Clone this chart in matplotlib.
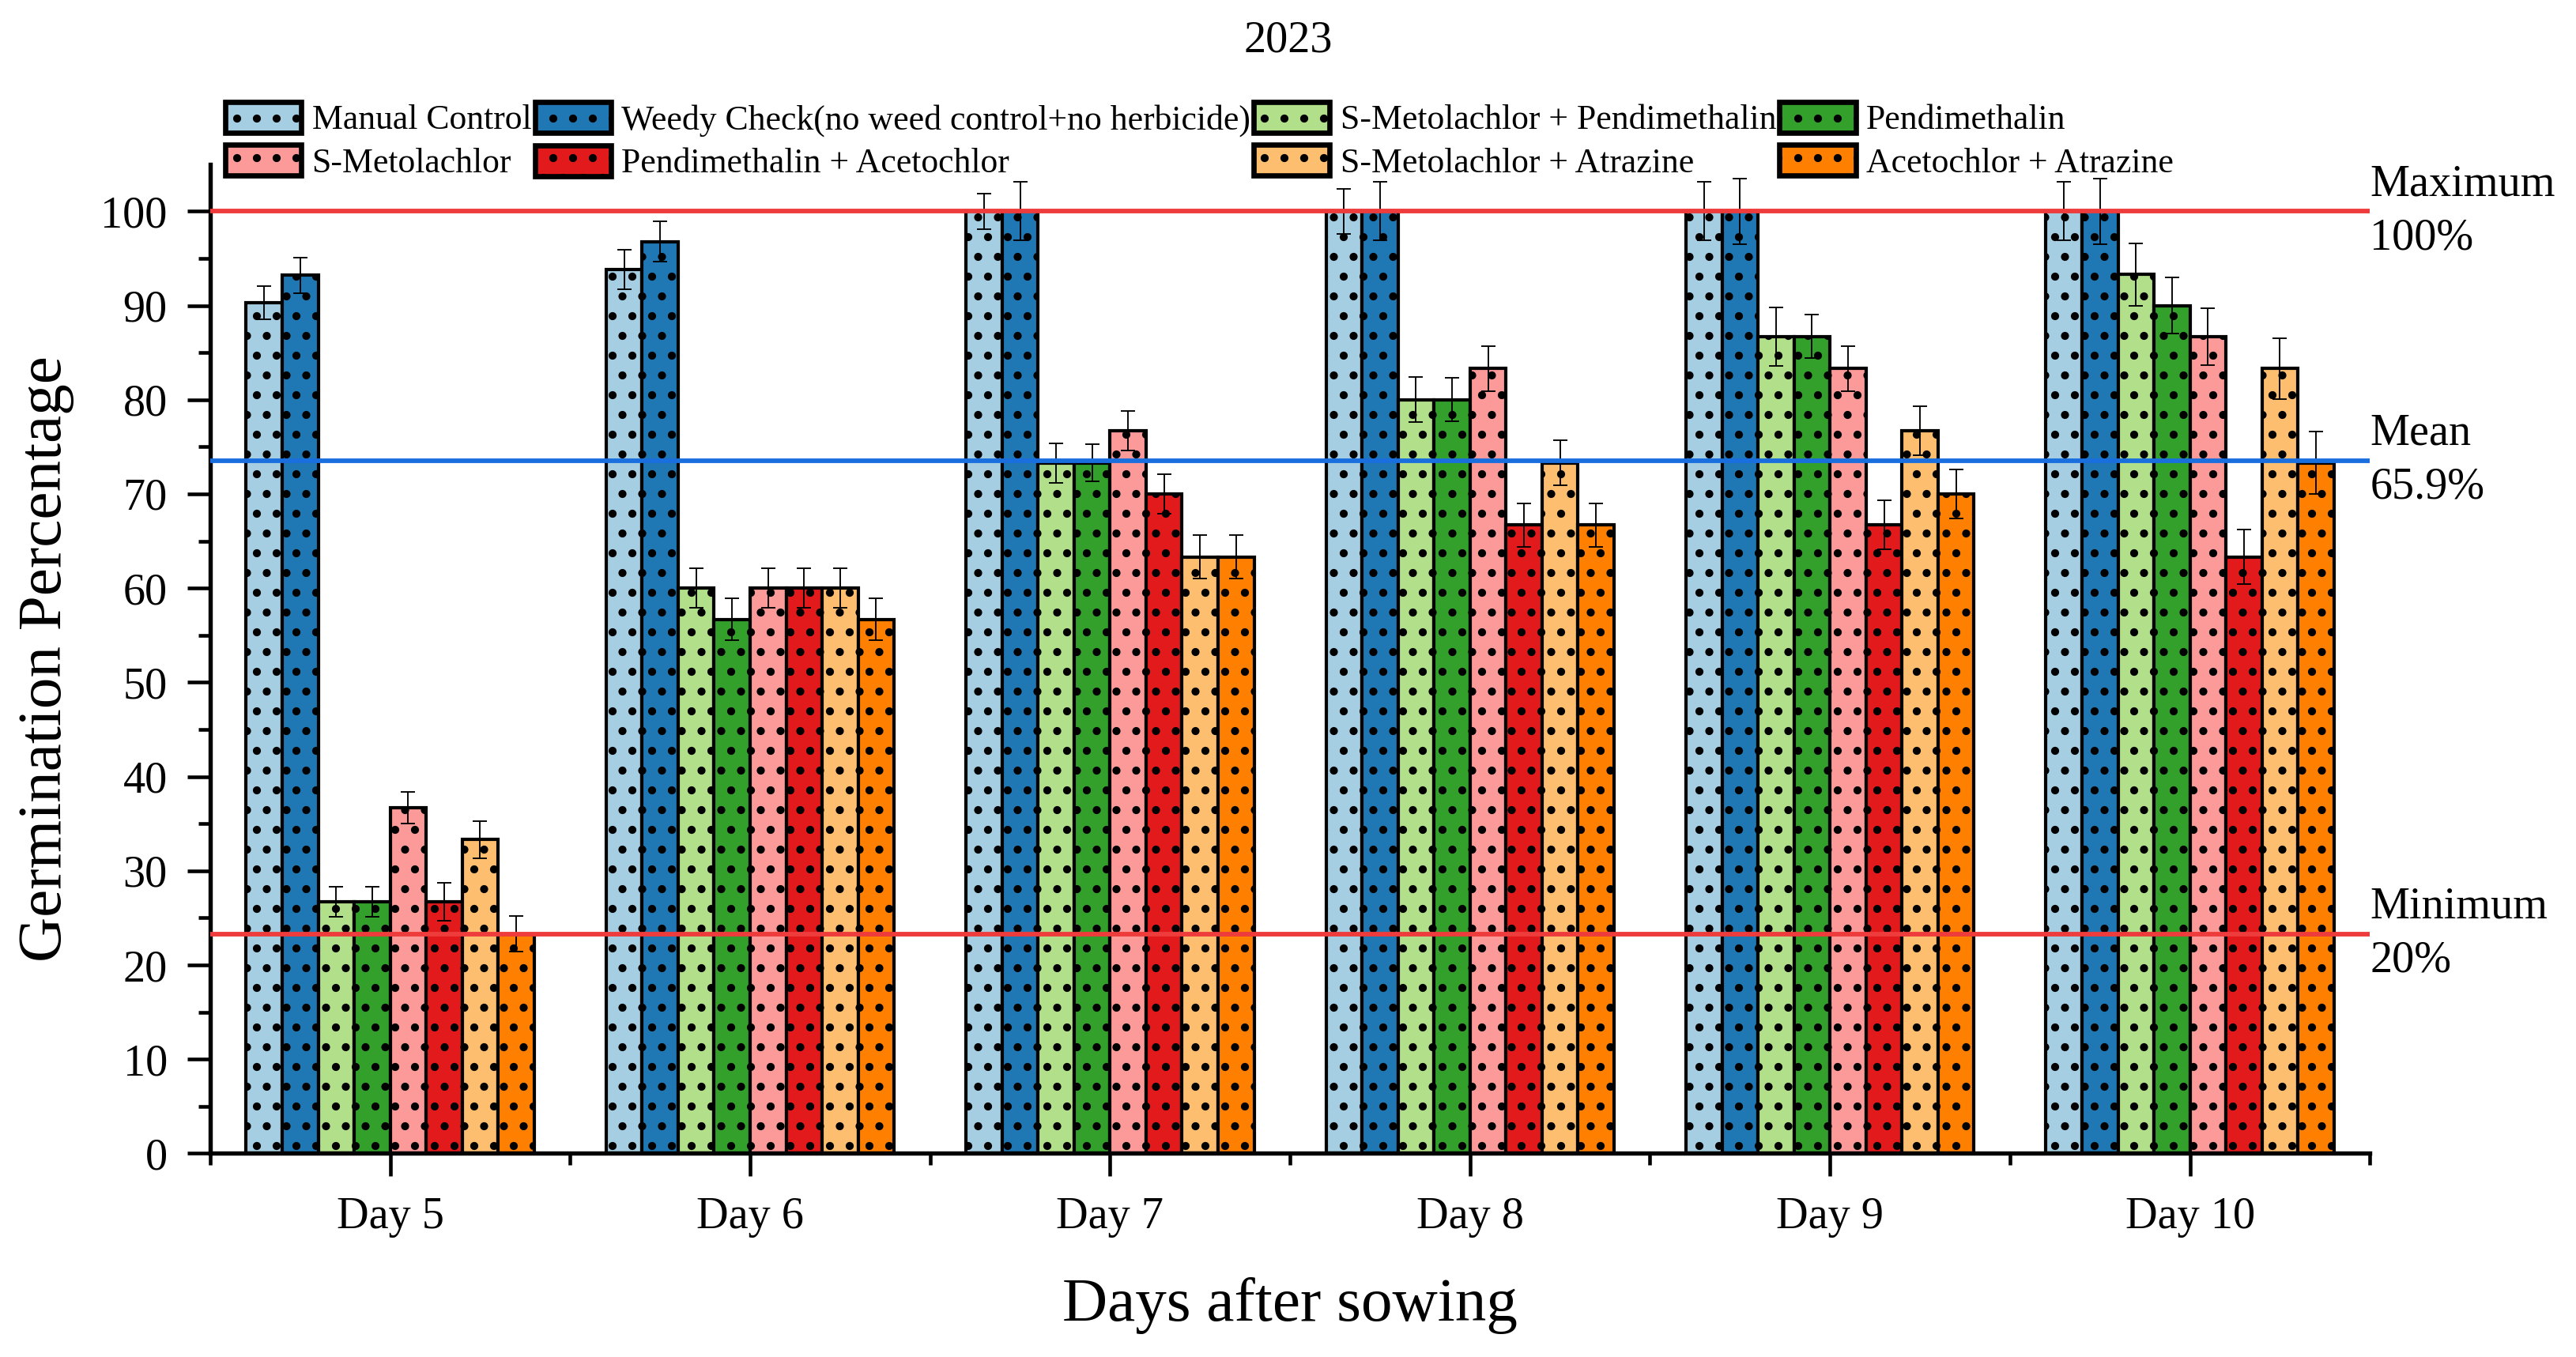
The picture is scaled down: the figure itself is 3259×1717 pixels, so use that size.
import numpy as np
import matplotlib
import matplotlib.pyplot as plt
import matplotlib.hatch
import matplotlib.transforms as mtransforms

# puntos del hatch un poco mas chicos
matplotlib.hatch.SmallFilledCircles.size = 0.17

plt.rcParams['font.family'] = ['Liberation Serif', 'DejaVu Serif']
plt.rcParams['hatch.linewidth'] = 0.4
plt.rcParams['hatch.color'] = 'black'

# data
days = ["Day 5", "Day 6", "Day 7", "Day 8", "Day 9", "Day 10"]
treatments = ["Manual Control", "Weedy Check(no weed control+no herbicide)",
              "S-Metolachlor + Pendimethalin", "Pendimethalin",
              "S-Metolachlor", "Pendimethalin + Acetochlor",
              "S-Metolachlor + Atrazine", "Acetochlor + Atrazine"]
colors = ["#a6cee3", "#1f78b4", "#b2df8a", "#33a02c",
          "#fb9a99", "#e31a1c", "#fdbf6f", "#ff7f00"]

manual_control = [90.3, 93.8, 100, 100, 100, 100]
weedy_check = [93.2, 96.8, 100, 100, 100, 100]
smet_pendi = [26.7, 60.0, 73.3, 80.0, 86.7, 93.3]
pendi = [26.7, 56.7, 73.3, 80.0, 86.7, 90.0]
smet = [36.7, 60.0, 76.7, 83.3, 83.3, 86.7]
pendi_aceto = [26.7, 60.0, 70.0, 66.7, 66.7, 63.3]
smet_atra = [33.3, 60.0, 63.3, 73.3, 76.7, 83.3]
aceto_atra = [23.3, 56.7, 63.3, 66.7, 70.0, 73.3]

err_manual_control = [1.8, 2.1, 1.9, 2.4, 3.1, 3.1]
err_weedy_check = [1.9, 2.1, 3.1, 3.1, 3.5, 3.5]
err_smet_pendi = [1.6, 2.1, 2.1, 2.4, 3.1, 3.3]
err_pendi = [1.6, 2.2, 2.0, 2.3, 2.3, 3.0]
err_smet = [1.7, 2.1, 2.1, 2.4, 2.4, 3.0]
err_pendi_aceto = [2.0, 2.1, 2.1, 2.3, 2.6, 2.9]
err_smet_atra = [2.0, 2.1, 2.3, 2.4, 2.6, 3.2]
err_aceto_atra = [1.9, 2.2, 2.3, 2.3, 2.6, 3.3]

valores = [manual_control, weedy_check, smet_pendi, pendi,
           smet, pendi_aceto, smet_atra, aceto_atra]
errores = [err_manual_control, err_weedy_check, err_smet_pendi, err_pendi,
           err_smet, err_pendi_aceto, err_smet_atra, err_aceto_atra]

fig = plt.figure(figsize=(3259 / 300, 1717 / 300), dpi=300)
ax = fig.add_axes([0.0816, 0.150, 0.8384, 0.729])

x = np.arange(len(days))
ancho = 0.1
barras = []
for j, (vals, errs) in enumerate(zip(valores, errores)):
    b = ax.bar(x + (j - 3.5) * ancho, vals, ancho, yerr=errs,
               color=colors[j], edgecolor='black', linewidth=1.0, hatch='..',
               label=treatments[j], capsize=2.2,
               error_kw=dict(elinewidth=0.45, capthick=0.45, ecolor='black', zorder=4))
    barras.append(b)

# lineas de referencia (maximo, media, minimo de los datos)
todos = np.concatenate(valores)
ax.axhline(np.max(todos), color='#ee3b3b', lw=1.4, zorder=5)
ax.axhline(np.mean(todos), color='#1a6fdf', lw=1.4, zorder=5)
ax.axhline(np.min(todos), color='#ee3b3b', lw=1.4, zorder=5)

trans = mtransforms.blended_transform_factory(ax.transAxes, ax.transData)
for y, txt in [(np.max(todos), "Maximum\n100%"),
               (np.mean(todos), "Mean\n65.9%"),
               (np.min(todos), "Minimum\n20%")]:
    ax.text(1.0, y, txt, transform=trans, ha='left', va='center',
            fontsize=13.5, linespacing=1.4)

# ejes
ax.set_xlim(-0.5, 5.5)
ax.set_ylim(0, 105)
ax.set_xticks(x)
ax.set_xticklabels(days)
ax.set_xticks(np.arange(-0.5, 6, 1), minor=True)
ax.set_yticks(np.arange(0, 101, 10))
ax.set_yticks(np.arange(5, 100, 10), minor=True)
ax.tick_params(axis='both', which='major', length=7, width=1.1, labelsize=13.5, pad=6)
ax.tick_params(axis='both', which='minor', length=3.5, width=1.1)
for lado in ['top', 'right']:
    ax.spines[lado].set_visible(False)
for lado in ['left', 'bottom']:
    ax.spines[lado].set_linewidth(1.3)

ax.set_xlabel("Days after sowing", fontsize=19, labelpad=12)
ax.set_ylabel("Germination Percentage", fontsize=19, labelpad=8)
fig.text(0.5, 0.985, "2023", ha='center', va='top', fontsize=13.5)

# leyenda, llenada por filas
orden = [0, 4, 1, 5, 2, 6, 3, 7]
handles = [barras[i] for i in orden]
labels = [treatments[i] for i in orden]
leg = fig.legend(handles, labels, loc='upper left', bbox_to_anchor=(0.0875, 0.925),
                 ncol=4, frameon=False, fontsize=10.5, borderpad=0, borderaxespad=0,
                 handlelength=2.2, handleheight=1.0, handletextpad=0.3,
                 columnspacing=0.1, labelspacing=0.25)
for p in leg.get_patches():
    p.set_linewidth(1.6)

fig.savefig("out.png", dpi=300)
